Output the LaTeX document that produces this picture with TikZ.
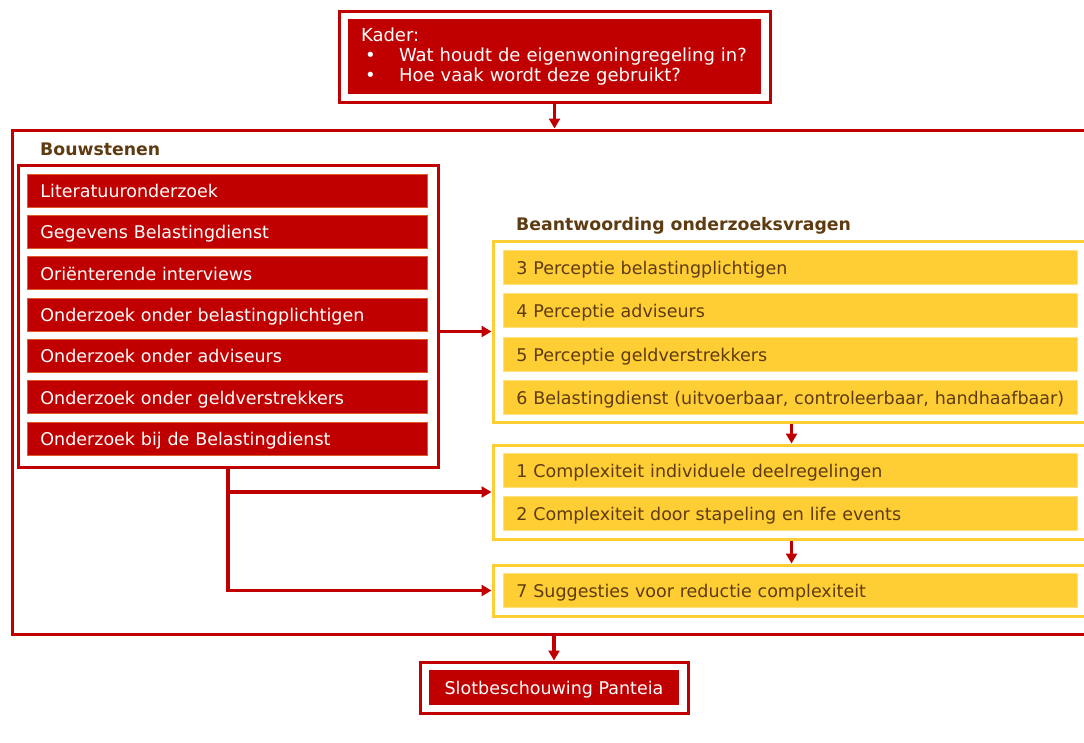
\documentclass[tikz,border=0pt]{standalone}
\usepackage{fontspec}
\setmainfont{DejaVu Sans}
\usetikzlibrary{arrows.meta}

\definecolor{pRed}{HTML}{C00000}
\definecolor{pRedEdge}{HTML}{E05A2A}
\definecolor{pYel}{HTML}{FFCE34}
\definecolor{pYelEdge}{HTML}{FFE07A}
\definecolor{pBrown}{HTML}{5E3B10}

\begin{document}
\begin{tikzpicture}[
    x=1pt, y=-1pt,
    every node/.style={rectangle, font=\fontsize{17.5}{20.5}\selectfont},
    redbar/.style={fill=pRed, draw=pRedEdge, line width=0.8pt, text=white, anchor=west,
        text width=374pt, inner xsep=13pt, inner ysep=0pt, minimum height=33pt, align=left,
        text height=15.5pt, text depth=1.5pt},
    yelbar/.style={fill=pYel, draw=pYelEdge, line width=0.8pt, text=pBrown, anchor=west,
        text width=548pt, inner xsep=13pt, inner ysep=0pt, minimum height=34pt, align=left,
        text height=15.5pt, text depth=1.5pt},
    redframe/.style={draw=pRed, line width=3pt, inner sep=0pt},
    yelframe/.style={draw=pYel, line width=3pt, inner sep=0pt},
    kop/.style={font=\fontsize{17.3}{20}\selectfont\bfseries, text=pBrown, anchor=west, inner sep=0pt},
    flow/.style={draw=pRed, line width=3.2pt, -{Triangle[length=10pt,width=11pt]}}
]

\clip (0,0) rectangle (1084,742);

% ================= Kader =================

\node[redframe, minimum width=431, minimum height=91] (kaderrand) at (554.5,56.5) {};
\node[fill=pRed, text=white, minimum width=413, minimum height=75,
      text width=387pt, inner xsep=13pt, align=left,
      font=\fontsize{18}{20}\selectfont] (kader) at (554.5,56.5)
      {Kader:\\
       \makebox[38pt][l]{\hspace{4pt}\textbullet}Wat houdt de eigenwoningregeling in?\\
       \makebox[38pt][l]{\hspace{4pt}\textbullet}Hoe vaak wordt deze gebruikt?};

% ================= groot kader =================

\node[redframe, minimum width=1100, minimum height=504] (geheel) at (562,382) {};

% ================= Bouwstenen =================

\node[kop] (bouwkop) at (40,149) {Bouwstenen};

\node[redframe, minimum width=420, minimum height=302] (bouwrand) at (228,316) {};

\node[redbar] (b1) at (27,190.5) {Literatuuronderzoek};
\node[redbar] (b2) at (27,231.8) {Gegevens Belastingdienst};
\node[redbar] (b3) at (27,273.1) {Oriënterende interviews};
\node[redbar] (b4) at (27,314.4) {Onderzoek onder belastingplichtigen};
\node[redbar] (b5) at (27,355.7) {Onderzoek onder adviseurs};
\node[redbar] (b6) at (27,397)   {Onderzoek onder geldverstrekkers};
\node[redbar] (b7) at (27,438.8) {Onderzoek bij de Belastingdienst};

% ================= Beantwoording onderzoeksvragen =================

\node[kop] (antwkop) at (516,226) {Beantwoording onderzoeksvragen};

\node[yelframe, minimum width=597, minimum height=181] (antw1) at (791.5,331.5) {};
\node[yelbar] (v3) at (503,267) {3 Perceptie belastingplichtigen};
\node[yelbar] (v4) at (503,310) {4 Perceptie adviseurs};
\node[yelbar] (v5) at (503,354) {5 Perceptie geldverstrekkers};
\node[yelbar] (v6) at (503,397) {6 Belastingdienst (uitvoerbaar, controleerbaar, handhaafbaar)};

\node[yelframe, minimum width=597, minimum height=94] (antw2) at (791.5,492) {};
\node[yelbar] (v1) at (503,470.5) {1 Complexiteit individuele deelregelingen};
\node[yelbar] (v2) at (503,513.5) {2 Complexiteit door stapeling en life events};

\node[yelframe, minimum width=597, minimum height=51] (antw3) at (791.5,590.5) {};
\node[yelbar] (v7) at (503,590.5) {7 Suggesties voor reductie complexiteit};

% ================= Slotbeschouwing =================

\node[redframe, minimum width=268, minimum height=51] (slotrand) at (554,687.5) {};
\node[fill=pRed, text=white, minimum width=250, minimum height=35, inner sep=0pt,
      text height=15.5pt, text depth=1.5pt] (slot) at (554,687.5)
      {Slotbeschouwing Panteia};

% ================= pijlen =================

\draw[flow] (kaderrand.south) -- (kaderrand.south |- geheel.north);
\draw[flow] (bouwrand.east |- antw1.west) -- (antw1.west);
\draw[flow] (antw1.south) -- (antw2.north);
\draw[flow] (antw2.south) -- (antw3.north);
\draw[flow] (bouwrand.south) |- (antw2.west);
\draw[flow] (bouwrand.south) |- (antw3.west);
\draw[flow] (geheel.south -| slotrand.north) -- (slotrand.north);

\end{tikzpicture}
\end{document}
